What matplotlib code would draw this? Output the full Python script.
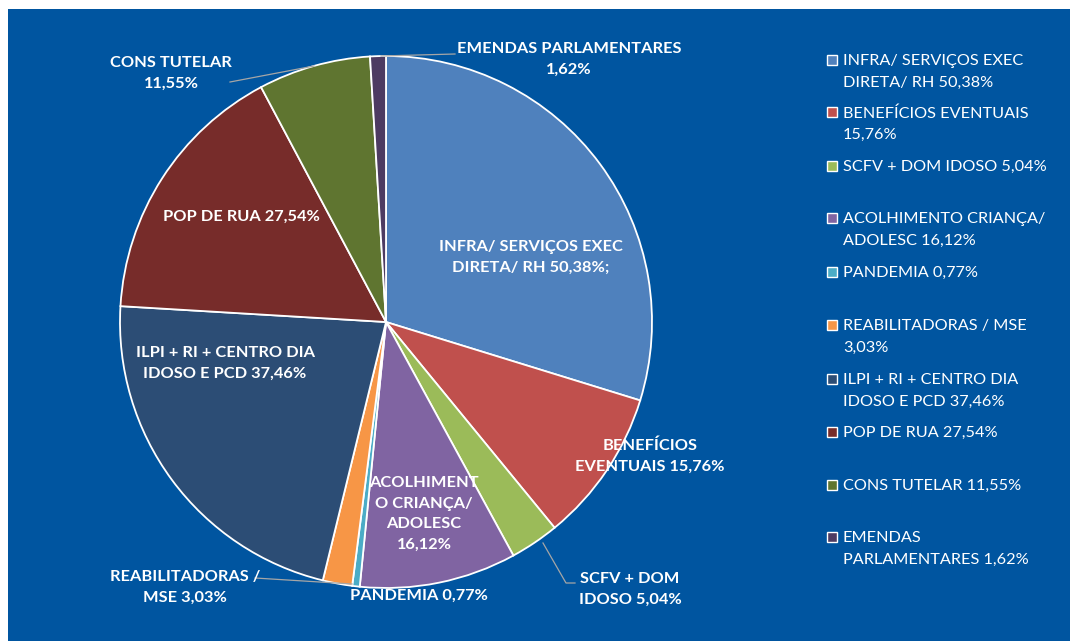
import matplotlib
matplotlib.use("Agg")
import matplotlib.pyplot as plt
from matplotlib.patches import Rectangle

W, H = 1070, 641

# data (shares as shown in the chart, drawn proportionally)
categories = [
    "INFRA/ SERVIÇOS EXEC DIRETA/ RH", "BENEFÍCIOS EVENTUAIS", "SCFV + DOM IDOSO",
    "ACOLHIMENTO CRIANÇA/ ADOLESC", "PANDEMIA", "REABILITADORAS / MSE",
    "ILPI + RI + CENTRO DIA IDOSO E PCD", "POP DE RUA", "CONS TUTELAR",
    "EMENDAS PARLAMENTARES",
]
values = [50.38, 15.76, 5.04, 16.12, 0.77, 3.03, 37.46, 27.54, 11.55, 1.62]
colors = ["#4F81BD", "#C0504D", "#9BBB59", "#8064A2", "#4BACC6",
          "#F79646", "#2C4D75", "#772C2A", "#5F7530", "#4D3B62"]

# data label text as printed on the chart
pie_labels = [
    "INFRA/ SERVIÇOS EXEC\nDIRETA/ RH 50,38%;",
    "BENEFÍCIOS\nEVENTUAIS 15,76%",
    "SCFV + DOM\nIDOSO 5,04%",
    "ACOLHIMENT\nO CRIANÇA/\nADOLESC\n16,12%",
    "PANDEMIA 0,77%",
    "REABILITADORAS /\nMSE 3,03%",
    "ILPI + RI + CENTRO DIA\nIDOSO E PCD 37,46%",
    "POP DE RUA 27,54%",
    "CONS TUTELAR\n11,55%",
    "EMENDAS PARLAMENTARES\n1,62%",
]
legend_labels = [
    "INFRA/ SERVIÇOS EXEC\nDIRETA/ RH 50,38%",
    "BENEFÍCIOS EVENTUAIS\n15,76%",
    "SCFV + DOM IDOSO 5,04%",
    "ACOLHIMENTO CRIANÇA/\nADOLESC 16,12%",
    "PANDEMIA 0,77%",
    "REABILITADORAS / MSE\n3,03%",
    "ILPI + RI + CENTRO DIA\nIDOSO E PCD 37,46%",
    "POP DE RUA 27,54%",
    "CONS TUTELAR 11,55%",
    "EMENDAS\nPARLAMENTARES 1,62%",
]

# layout (pixel positions of label centres / legend rows)
label_pos = [(531, 257), (650, 456), (630, 589), (424, 514), (419, 596),
             (185, 587), (225, 363), (241, 217), (171, 73), (569, 59)]
legend_y = [60, 112, 166, 218, 272, 325, 379, 432, 485, 537]
leaders = {
    2: [(543, 543), (566, 583), (575, 583)],
    5: [(255, 578), (352, 584)],
    8: [(230, 82), (314, 66)],
    9: [(381, 56), (455, 54)],
}

BG = "#0055A0"
FONT = ["Lato", "DejaVu Sans"]


def fx(x):
    return x / W


def fy(y):
    return 1 - y / H


fig = plt.figure(figsize=(W / 100, H / 100), dpi=100, facecolor="white")
fig.patches.append(Rectangle((fx(8), 0), 1 - fx(8), fy(9), transform=fig.transFigure,
                             facecolor=BG, edgecolor="none", zorder=-5))

cx, cy, r = 386, 322, 266
ax = fig.add_axes([fx(cx - r), fy(cy + r), 2 * r / W, 2 * r / H])
ax.set_zorder(1)
ax.pie(values, colors=colors, startangle=90, counterclock=False, radius=1,
       wedgeprops=dict(edgecolor="white", linewidth=1.3))
ax.set_xlim(-1, 1)
ax.set_ylim(-1, 1)
ax.set_aspect("auto")
ax.axis("off")

for i, pts in leaders.items():
    xs = [fx(p[0]) for p in pts]
    ys = [fy(p[1]) for p in pts]
    fig.add_artist(plt.Line2D(xs, ys, color="#A6A6A6", lw=0.9,
                              transform=fig.transFigure, zorder=2))

for txt, (x, y) in zip(pie_labels, label_pos):
    fig.text(fx(x), fy(y), txt, ha="center", va="center", color="white",
             fontsize=11.8, fontweight="bold", family=FONT, linespacing=1.6,
             zorder=3)

for lab, col, y in zip(legend_labels, colors, legend_y):
    fig.patches.append(Rectangle((fx(827), fy(y + 5)), 10 / W, 10 / H,
                                 transform=fig.transFigure, facecolor=col,
                                 edgecolor="white", linewidth=1.0, zorder=3))
    fig.text(fx(843), fy(y - 6), lab, ha="left", va="top", color="white",
             fontsize=11.7, family=FONT, linespacing=1.7, zorder=3)

fig.savefig("out.png", dpi=100, facecolor="white")
